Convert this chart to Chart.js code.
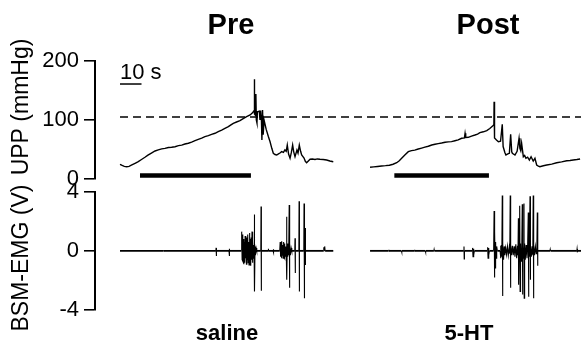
<!DOCTYPE html>
<html>
<head>
<meta charset="utf-8">
<script src="https://cdn.jsdelivr.net/npm/chart.js@4/dist/chart.umd.min.js"></script>
<style>
  html, body { margin: 0; padding: 0; background: #fff; }
  #wrap { position: relative; width: 581px; height: 345px; overflow: hidden; }
  canvas { position: absolute; left: 0; }
  #upp { top: 0; }
  #emg { top: 160px; }
</style>
</head>
<body>
<div id="wrap">
  <canvas id="upp" width="581" height="215"></canvas>
  <canvas id="emg" width="581" height="185"></canvas>
</div>
<script>
// ---- Recording data (time in s; the Post recording follows Pre on one time axis) ----
const panelTitles = ['Pre', 'Post'];
const conditionLabels = ['saline', '5-HT'];
const uppTicks = [0, 100, 200];
const emgTicks = [-4, 0, 4];
const timeRange = [-11.63, 214.42];

const preTime = [0, 1.0, 2.0, 3.1, 4.2, 5.5, 7.0, 8.5, 10.0, 11.6, 13.0, 14.6, 16.3, 17.8, 19.4, 20.9,
  22.5, 24.0, 25.6, 27.2, 28.7, 30.2, 31.8, 33.3, 34.9, 36.4, 38.0, 39.5, 41.1, 42.6, 44.2, 45.7,
  47.3, 48.8, 50.4, 51.6, 52.7, 54.2, 55.8, 57.3, 58.9, 60.5, 61.4, 62.0, 62.4, 62.5, 62.6, 63.0,
  63.2, 63.4, 63.7, 63.9, 64.8, 65.1, 65.4, 65.8, 66.0, 66.3, 66.6, 67.0, 68.0, 69.0, 69.8, 70.6,
  71.3, 72.1, 72.9, 73.7, 74.4, 75.2, 76.0, 76.7, 77.3, 77.8, 78.4, 79.1, 79.7, 80.3, 80.8, 81.4,
  82.3, 82.8, 83.4, 84.0, 84.5, 85.6, 86.2, 86.8, 87.6, 88.4, 89.5, 90.7, 91.8, 93.0, 94.5, 96.1,
  97.6, 99.2];
const preUPP = [24.9, 23.0, 21.5, 20.8, 21.5, 23.8, 26.6, 29.5, 33.0, 36.8, 40.5, 44.0, 47.5, 49.4, 51.0, 52.0,
  53.4, 53.8, 54.7, 56.5, 57.4, 59.3, 60.6, 62.6, 64.9, 67.0, 69.2, 71.7, 73.4, 75.6, 77.5, 80.4,
  82.9, 85.9, 88.7, 91.8, 94.4, 96.6, 98.8, 102.4, 105.8, 108.5, 111.5, 114.1, 116.0, 169.0, 110.0, 108.0,
  144.0, 100.0, 95.0, 114.0, 115.0, 100.0, 116.0, 98.0, 66.0, 117.0, 75.0, 100.0, 84.0, 72.0, 63.2, 52.0,
  43.6, 41.5, 40.7, 42.5, 44.0, 46.3, 45.0, 49.2, 47.0, 57.6, 42.4, 35.1, 45.0, 57.6, 46.0, 37.8,
  49.2, 44.0, 57.6, 47.0, 40.7, 35.6, 30.0, 27.6, 30.5, 33.4, 33.8, 33.0, 34.0, 33.4, 33.0, 32.2,
  30.5, 29.3];

const postTime = [116.3, 118.0, 119.8, 121.7, 123.5, 125.3, 127.0, 128.7, 129.9, 131.0, 132.6, 134.1, 135.6,
  137.1, 138.7, 140.3, 141.8, 143.4, 145.0, 146.5, 148.0, 149.6, 151.2, 152.7, 154.2, 155.8, 157.3,
  158.9, 160.2, 160.5, 160.8, 162.0, 163.5, 165.1, 166.3, 167.4, 169.0, 170.6, 172.0, 173.3, 173.9,
  174.0, 174.1, 174.3, 175.1, 176.0, 177.0, 177.8, 178.2, 179.0, 179.5, 180.4, 181.1, 181.7, 182.2,
  182.5, 183.1, 183.7, 184.7, 185.6, 186.0, 186.4, 186.8, 187.6, 188.2, 188.8, 189.6, 190.4, 191.2,
  192.2, 193.0, 193.8, 194.6, 195.3, 196.9, 198.5, 200.8, 203.1, 205.4, 207.8, 209.3, 210.8, 212.5, 214.0];
const postUPP = [19.8, 20.5, 21.2, 22.0, 22.6, 23.4, 25.0, 27.6, 31.0, 35.1, 41.0, 46.3, 48.2,
  49.0, 50.8, 52.4, 53.9, 55.5, 57.6, 58.8, 60.0, 61.0, 62.2, 63.0, 63.4, 64.9, 66.2,
  69.0, 69.8, 77.5, 70.2, 70.7, 72.8, 74.6, 76.2, 78.5, 80.0, 81.9, 85.5, 89.8, 92.0,
  131.0, 80.0, 69.5, 66.0, 63.2, 64.0, 92.7, 55.0, 45.0, 40.7, 42.5, 43.6, 75.8, 46.0,
  43.6, 42.0, 40.7, 47.0, 69.0, 52.0, 48.0, 60.5, 37.8, 40.0, 35.1, 37.0, 32.2, 37.8,
  30.5, 35.1, 23.7, 22.0, 20.8, 22.5, 23.7, 25.2, 27.6, 29.0, 31.0, 31.4, 32.2, 33.0, 33.9];

const thresholdUPP = 105;          // dashed reference level, mmHg
const stimPre = [9.3, 60.9];       // stimulation period, s
const stimPost = [127.6, 171.6];
const stimLevel = 6;
const scaleBarTime = [0, 10];      // 10 s calibration bar
const scaleBarLevel = 161;

// BSM-EMG, [time s, volts]
const emgPre = [
  [0,0],[20.2,0],[20.3,0.06],[20.4,0],[44.6,0],[44.7,0.2],[44.8,-0.35],[44.9,0],
  [50.7,0],[50.8,0.15],[50.9,-0.35],[51.0,0],
  [56.4,0],[56.6,1.3],[56.8,-0.6],[57.0,1.1],[57.2,-0.7],[57.4,0.8],[57.6,-0.9],[57.8,0.6],[58.0,-0.8],
  [58.2,1.0],[58.4,-0.5],[58.6,0.7],[58.8,-0.9],[59.0,0.9],[59.2,-0.6],[59.4,1.1],[59.6,-0.8],[59.8,0.6],
  [60.0,-0.95],[60.2,1.2],[60.4,-0.7],[60.6,0.8],[60.8,-1.0],[61.0,0.9],[61.2,-0.6],[61.4,1.3],[61.6,-0.8],
  [61.8,0.7],[62.0,-0.5],[62.2,0.4],[62.4,-0.3],
  [62.5,2.45],[62.6,-2.75],[62.8,0.3],[63.0,-0.3],[63.3,0.2],[63.6,0],
  [65.5,0],[65.6,3.0],[65.7,-2.7],[65.8,0],
  [68.9,0],[69.0,0.15],[69.1,0],
  [71.2,0],[71.3,0.1],[71.4,-0.1],[71.5,0],
  [74.3,0],[74.5,0.6],[74.7,-0.4],[74.9,0.5],[75.1,-0.5],[75.3,0.65],[75.5,-0.3],[75.7,0.4],[75.9,-0.5],
  [76.1,0.6],[76.3,-0.4],[76.5,0.5],[76.7,-0.5],[76.9,0.3],[77.1,-0.4],[77.3,0.2],
  [77.5,2.3],[77.6,-1.95],[77.8,0.5],[78.0,-0.4],[78.2,0.4],[78.4,-0.3],[78.6,0.2],
  [78.7,3.1],[78.8,-2.5],[79.0,0.3],[79.3,-0.3],[79.6,0.2],[79.9,0],
  [81.3,0],[81.4,0.85],[81.5,-1.5],[81.6,0],
  [83.2,0],[83.3,3.35],[83.4,-2.75],[83.5,0],
  [85.5,0],[85.6,3.2],[85.7,-3.2],[85.9,0],[86.1,1.55],[86.2,-0.95],[86.3,0],
  [94.7,0],[94.8,0.25],[95.0,0.05],[95.2,0.3],[95.4,0],
  [99.2,0]
];
const emgPost = [
  [116.3,0],[124.9,0],[125.0,0.08],[125.1,0],[130.9,0],[131.0,-0.08],[131.1,0],[136.9,0],[137.0,0.08],[137.1,0],
  [142.0,0],[142.1,-0.08],[142.2,0],[146.0,0],[146.1,0.08],[146.2,0],
  [159.9,0],[160.0,0.3],[160.1,-0.55],[160.2,0],
  [163.8,0],[164.0,0.2],[164.2,-0.4],[164.4,0.15],[164.6,-0.3],[164.8,0],
  [170.8,0],[171.0,0.25],[171.2,-0.5],[171.4,0.2],[171.6,-0.3],[171.8,0],
  [173.8,0],[174.0,2.7],[174.1,-1.8],[174.2,0.5],[174.4,1.3],[174.5,-1.15],[174.7,0.6],[174.9,-0.5],[175.2,0.3],[175.5,0],
  [176.8,0],[177.0,0.35],[177.2,-0.5],[177.4,0.4],[177.6,-0.4],
  [177.8,3.75],[177.9,-3.05],[178.1,0.5],[178.4,-0.6],[178.7,0.3],[179.0,-0.3],[179.4,0.2],[179.8,-0.25],
  [180.2,0.3],[180.6,-0.3],[181.0,0.2],[181.3,-0.2],
  [181.5,3.75],[181.6,-2.5],[181.8,0.4],[182.1,-0.3],[182.5,0.35],[182.9,-0.3],[183.3,0.3],[183.7,-0.4],
  [184.1,0.45],[184.5,-0.5],[184.9,0.35],[185.1,-0.3],
  [185.3,2.2],[185.4,-2.3],[185.6,0.5],[185.8,-0.6],
  [186.0,3.05],[186.1,-2.75],[186.3,0.5],[186.6,-0.7],[186.9,0.5],
  [187.1,3.15],[187.2,-2.95],[187.4,0.4],[187.6,-0.5],
  [187.9,3.2],[188.0,-3.2],[188.2,0.5],[188.5,-0.6],[188.9,0.4],[189.3,-0.5],[189.6,0.3],
  [189.9,2.6],[190.0,-3.1],[190.2,0.4],[190.4,-0.4],
  [190.7,3.7],[190.8,-1.95],[191.0,0.4],[191.3,-0.4],[191.7,0.3],[192.0,-0.3],
  [192.2,3.75],[192.3,-3.2],[192.5,0.4],[192.8,-0.3],[193.2,0.3],[193.6,-0.2],[193.9,0.2],
  [194.1,2.6],[194.2,-1.0],[194.4,0],
  [200.0,0],[200.1,0.08],[200.2,0],
  [212.5,0],[212.6,0.12],[212.7,-0.1],[212.8,0],
  [214.42,0]
];

// ---- Drawing ----
const FONT = '"Liberation Sans", Arial, Helvetica, sans-serif';
const pairs = (xs, ys) => xs.map((x, i) => [x, ys[i]]);

function line(data, width, extra) {
  return Object.assign({
    data, borderColor: '#000', borderWidth: width, pointRadius: 0,
    tension: 0, fill: false, clip: false, borderCapStyle: 'butt'
  }, extra || {});
}

// EMG: flat baseline drawn a little heavier than the spikes
const emgSegment = {
  borderWidth: c => (c.p0.parsed.y === 0 && c.p1.parsed.y === 0) ? 1.8 : 1.1
};

function yAxis(min, max, tickValues) {
  return {
    type: 'linear', position: 'left', min, max,
    afterBuildTicks: s => { s.ticks = tickValues.map(v => ({ value: v })); },
    afterFit: s => { s.width = 95; },
    grid: { drawOnChartArea: false, drawTicks: true, tickLength: 11, color: '#000', lineWidth: 1.6 },
    border: { display: true, color: '#000', width: 2 },
    ticks: { color: '#000', padding: 5, autoSkip: false, font: { family: FONT, size: 22 } },
    title: { display: false }
  };
}

function xAxis() {
  return { type: 'linear', min: timeRange[0], max: timeRange[1], display: false };
}

function baseOptions(yScale, padTop, padBottom) {
  return {
    responsive: false, animation: false, events: [],
    layout: { padding: { top: padTop, bottom: padBottom, left: 0, right: 0 } },
    plugins: { legend: { display: false }, tooltip: { enabled: false } },
    scales: { x: xAxis(), y: yScale }
  };
}

function rotatedTitle(ctx, text, x, y, size) {
  ctx.save();
  ctx.translate(x, y);
  ctx.rotate(-Math.PI / 2);
  ctx.font = size + 'px ' + FONT;
  ctx.textAlign = 'center';
  ctx.textBaseline = 'alphabetic';
  ctx.fillText(text, 0, 0);
  ctx.restore();
}

const uppLabels = {
  id: 'uppLabels',
  afterDraw(chart) {
    const ctx = chart.ctx, xs = chart.scales.x, ys = chart.scales.y;
    ctx.save();
    ctx.fillStyle = '#000';
    ctx.font = 'bold 29px ' + FONT;
    ctx.textAlign = 'center';
    ctx.textBaseline = 'alphabetic';
    ctx.fillText(panelTitles[0], 231, 34);
    ctx.fillText(panelTitles[1], 488, 34);
    ctx.font = '22px ' + FONT;
    ctx.textAlign = 'left';
    ctx.fillText('10 s', xs.getPixelForValue(scaleBarTime[0]), ys.getPixelForValue(scaleBarLevel) - 5);
    rotatedTitle(ctx, 'UPP (mmHg)', 28, 107, 23);
    ctx.restore();
  }
};

const emgLabels = {
  id: 'emgLabels',
  afterDraw(chart) {
    const ctx = chart.ctx;
    ctx.save();
    ctx.fillStyle = '#000';
    ctx.font = 'bold 22px ' + FONT;
    ctx.textAlign = 'center';
    ctx.textBaseline = 'alphabetic';
    ctx.fillText(conditionLabels[0], 227, 180);
    ctx.fillText(conditionLabels[1], 469, 180);
    rotatedTitle(ctx, 'BSM-EMG (V)', 28, 98, 23);
    ctx.restore();
  }
};

new Chart(document.getElementById('upp'), {
  type: 'line',
  data: {
    datasets: [
      line([[preTime[0], thresholdUPP], [timeRange[1], thresholdUPP]], 1.6, { borderDash: [8, 5] }),
      line(pairs(preTime, preUPP), 1.4),
      line(pairs(postTime, postUPP), 1.4),
      line([[stimPre[0], stimLevel], [stimPre[1], stimLevel]], 4.5),
      line([[stimPost[0], stimLevel], [stimPost[1], stimLevel]], 4.5),
      line([[scaleBarTime[0], scaleBarLevel], [scaleBarTime[1], scaleBarLevel]], 1.5)
    ]
  },
  options: baseOptions(yAxis(uppTicks[0], uppTicks[uppTicks.length - 1], uppTicks), 61, 36),
  plugins: [uppLabels]
});

new Chart(document.getElementById('emg'), {
  type: 'line',
  data: {
    datasets: [
      line(emgPre, 1.1, { segment: emgSegment }),
      line(emgPost, 1.1, { segment: emgSegment })
    ]
  },
  options: baseOptions(yAxis(emgTicks[0], emgTicks[emgTicks.length - 1], emgTicks), 31.7, 35),
  plugins: [emgLabels]
});
</script>
</body>
</html>
